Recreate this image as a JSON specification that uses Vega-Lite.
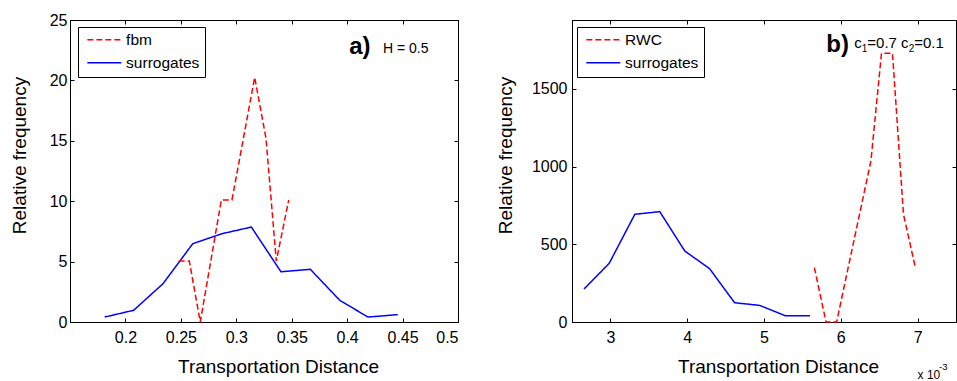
{
  "$schema": "https://vega.github.io/schema/vega-lite/v6.json",
  "background": "white",
  "padding": {"left": 9, "top": 11, "right": 0, "bottom": 0},
  "config": {
    "font": "Liberation Sans",
    "view": {"stroke": "black", "strokeWidth": 1},
    "text": {"fill": "black"},
    "axis": {
      "grid": false,
      "domainColor": "black",
      "tickColor": "black",
      "labelColor": "black",
      "titleColor": "black",
      "labelFontSize": 16,
      "titleFontSize": 19,
      "titleFontWeight": "normal",
      "tickSize": -4,
      "labelPadding": 7
    },
    "legend": {
      "orient": "none",
      "legendX": 8,
      "legendY": 7,
      "fillColor": "white",
      "strokeColor": "black",
      "padding": 5,
      "symbolOffset": -3.4,
      "labelFontSize": 15.5,
      "labelColor": "black",
      "symbolType": "M0,0H6",
      "symbolSize": 128,
      "symbolStrokeWidth": 1.5,
      "labelOffset": 31,
      "rowPadding": 6,
      "title": null
    }
  },
  "spacing": 36,
  "hconcat": [
    {
      "width": 388,
      "height": 302,
      "layer": [
        {
          "data": {"values": [
            {"d": 0.1813, "f": 0.41, "s": "surrogates"},
            {"d": 0.2074, "f": 0.97, "s": "surrogates"},
            {"d": 0.2339, "f": 3.17, "s": "surrogates"},
            {"d": 0.2607, "f": 6.48, "s": "surrogates"},
            {"d": 0.2871, "f": 7.31, "s": "surrogates"},
            {"d": 0.3136, "f": 7.86, "s": "surrogates"},
            {"d": 0.3403, "f": 4.16, "s": "surrogates"},
            {"d": 0.3668, "f": 4.36, "s": "surrogates"},
            {"d": 0.3933, "f": 1.80, "s": "surrogates"},
            {"d": 0.4188, "f": 0.41, "s": "surrogates"},
            {"d": 0.4456, "f": 0.61, "s": "surrogates"},
            {"d": 0.2480, "f": 5.05, "s": "fbm"},
            {"d": 0.2576, "f": 5.05, "s": "fbm"},
            {"d": 0.2675, "f": 0.0, "s": "fbm"},
            {"d": 0.2865, "f": 10.1, "s": "fbm"},
            {"d": 0.2961, "f": 10.1, "s": "fbm"},
            {"d": 0.3166, "f": 20.25, "s": "fbm"},
            {"d": 0.3268, "f": 15.2, "s": "fbm"},
            {"d": 0.3361, "f": 5.05, "s": "fbm"},
            {"d": 0.3473, "f": 10.1, "s": "fbm"}
          ]},
          "mark": {"type": "line", "strokeWidth": 1.5},
          "encoding": {
            "x": {"field": "d", "type": "quantitative",
              "scale": {"domain": [0.15, 0.5], "nice": false, "zero": false},
              "axis": {"orient": "bottom", "values": [0.2, 0.25, 0.3, 0.35, 0.4, 0.45, 0.5], "format": "~g", "title": "Transportation Distance", "titlePadding": 12, "labelPadding": 11, "titleX": 208}},
            "y": {"field": "f", "type": "quantitative",
              "scale": {"domain": [0, 25], "nice": false},
              "axis": {"orient": "left", "values": [0, 5, 10, 15, 20, 25], "title": "Relative frequency", "titlePadding": 20, "titleY": 135}},
            "color": {"field": "s", "type": "nominal",
              "scale": {"domain": ["fbm", "surrogates"], "range": ["#ff0000", "#0000ff"]},
              "legend": {}},
            "strokeDash": {"field": "s", "type": "nominal",
              "scale": {"domain": ["fbm", "surrogates"], "range": [[6, 3], [1, 0]]},
              "legend": {}}
          }
        },
        {
          "data": {"values": [{"d": 0.2, "f": 0}]},
          "mark": {"type": "point", "opacity": 0},
          "encoding": {
            "x": {"field": "d", "type": "quantitative",
              "axis": {"orient": "top", "values": [0.2, 0.25, 0.3, 0.35, 0.4, 0.45, 0.5], "labels": false, "labelPadding": 0, "title": null}},
            "y": {"field": "f", "type": "quantitative",
              "axis": {"orient": "right", "values": [0, 5, 10, 15, 20, 25], "labels": false, "labelPadding": 0, "title": null}}
          }
        },
        {
          "data": {"values": [{}]},
          "mark": {"type": "text", "text": "a)", "fontWeight": "bold", "fontSize": 24, "align": "left", "baseline": "alphabetic"},
          "encoding": {"x": {"datum": 0.4018, "axis": null}, "y": {"datum": 22.2, "axis": null}}
        },
        {
          "data": {"values": [{}]},
          "mark": {"type": "text", "text": "H = 0.5", "fontSize": 14, "align": "left", "baseline": "alphabetic"},
          "encoding": {"x": {"datum": 0.4323, "axis": null}, "y": {"datum": 22.3, "axis": null}}
        }
      ],
      "resolve": {"axis": {"x": "independent", "y": "independent"}}
    },
    {
      "width": 384,
      "height": 302,
      "layer": [
        {
          "data": {"values": [
            {"d": 2.656, "f": 212, "s": "surrogates"},
            {"d": 2.985, "f": 378, "s": "surrogates"},
            {"d": 3.318, "f": 693, "s": "surrogates"},
            {"d": 3.643, "f": 710, "s": "surrogates"},
            {"d": 3.968, "f": 457, "s": "surrogates"},
            {"d": 4.292, "f": 343, "s": "surrogates"},
            {"d": 4.617, "f": 124, "s": "surrogates"},
            {"d": 4.942, "f": 107, "s": "surrogates"},
            {"d": 5.275, "f": 41, "s": "surrogates"},
            {"d": 5.600, "f": 41, "s": "surrogates"},
            {"d": 5.656, "f": 350, "s": "RWC"},
            {"d": 5.808, "f": 0, "s": "RWC"},
            {"d": 5.946, "f": 0, "s": "RWC"},
            {"d": 6.093, "f": 343, "s": "RWC"},
            {"d": 6.240, "f": 684, "s": "RWC"},
            {"d": 6.392, "f": 1036, "s": "RWC"},
            {"d": 6.530, "f": 1729, "s": "RWC"},
            {"d": 6.673, "f": 1729, "s": "RWC"},
            {"d": 6.816, "f": 693, "s": "RWC"},
            {"d": 6.968, "f": 356, "s": "RWC"}
          ]},
          "mark": {"type": "line", "strokeWidth": 1.5},
          "encoding": {
            "x": {"field": "d", "type": "quantitative",
              "scale": {"domain": [2.5, 7.5], "nice": false, "zero": false},
              "axis": {"orient": "bottom", "values": [3, 4, 5, 6, 7], "title": "Transportation Distance", "titlePadding": 12, "labelPadding": 11, "titleX": 206}},
            "y": {"field": "f", "type": "quantitative",
              "scale": {"domain": [0, 1943], "nice": false},
              "axis": {"orient": "left", "values": [0, 500, 1000, 1500], "format": "d", "title": "Relative frequency", "titlePadding": 16, "labelPadding": 9, "titleY": 135}},
            "color": {"field": "s", "type": "nominal",
              "scale": {"domain": ["RWC", "surrogates"], "range": ["#ff0000", "#0000ff"]},
              "legend": {"legendX": 5}},
            "strokeDash": {"field": "s", "type": "nominal",
              "scale": {"domain": ["RWC", "surrogates"], "range": [[6, 3], [1, 0]]},
              "legend": {"legendX": 5}}
          }
        },
        {
          "data": {"values": [{"d": 3, "f": 0}]},
          "mark": {"type": "point", "opacity": 0},
          "encoding": {
            "x": {"field": "d", "type": "quantitative",
              "axis": {"orient": "top", "values": [3, 4, 5, 6, 7], "labels": false, "labelPadding": 0, "title": null}},
            "y": {"field": "f", "type": "quantitative",
              "axis": {"orient": "right", "values": [0, 500, 1000, 1500], "labels": false, "labelPadding": 0, "title": null}}
          }
        },
        {
          "data": {"values": [{}]},
          "mark": {"type": "text", "text": "b)", "fontWeight": "bold", "fontSize": 24, "align": "left", "baseline": "alphabetic"},
          "encoding": {"x": {"datum": 5.812, "axis": null}, "y": {"datum": 1737, "axis": null}}
        },
        {
          "data": {"values": [{}]},
          "mark": {"type": "text", "text": "c", "fontSize": 15, "align": "left", "baseline": "alphabetic"},
          "encoding": {"x": {"datum": 6.175, "axis": null}, "y": {"datum": 1765, "axis": null}}
        },
        {
          "data": {"values": [{}]},
          "mark": {"type": "text", "text": "1", "fontSize": 10, "align": "left", "baseline": "alphabetic", "dx": 7.5},
          "encoding": {"x": {"datum": 6.175, "axis": null}, "y": {"datum": 1739, "axis": null}}
        },
        {
          "data": {"values": [{}]},
          "mark": {"type": "text", "text": "=0.7 c", "fontSize": 15, "align": "left", "baseline": "alphabetic", "dx": 13.1},
          "encoding": {"x": {"datum": 6.175, "axis": null}, "y": {"datum": 1765, "axis": null}}
        },
        {
          "data": {"values": [{}]},
          "mark": {"type": "text", "text": "2", "fontSize": 10, "align": "left", "baseline": "alphabetic", "dx": 54.4},
          "encoding": {"x": {"datum": 6.175, "axis": null}, "y": {"datum": 1739, "axis": null}}
        },
        {
          "data": {"values": [{}]},
          "mark": {"type": "text", "text": "=0.1", "fontSize": 15, "align": "left", "baseline": "alphabetic", "dx": 60},
          "encoding": {"x": {"datum": 6.175, "axis": null}, "y": {"datum": 1765, "axis": null}}
        },
        {
          "data": {"values": [{}]},
          "mark": {"type": "text", "text": "x 10", "fontSize": 12, "align": "left", "baseline": "alphabetic"},
          "encoding": {"x": {"datum": 7.0, "axis": null}, "y": {"datum": -365, "axis": null}}
        },
        {
          "data": {"values": [{}]},
          "mark": {"type": "text", "text": "-3", "fontSize": 9.5, "align": "left", "baseline": "alphabetic"},
          "encoding": {"x": {"datum": 7.28, "axis": null}, "y": {"datum": -309, "axis": null}}
        }
      ],
      "resolve": {"axis": {"x": "independent", "y": "independent"}}
    }
  ],
  "resolve": {
    "scale": {"color": "independent", "strokeDash": "independent"},
    "legend": {"color": "independent", "strokeDash": "independent"}
  }
}
